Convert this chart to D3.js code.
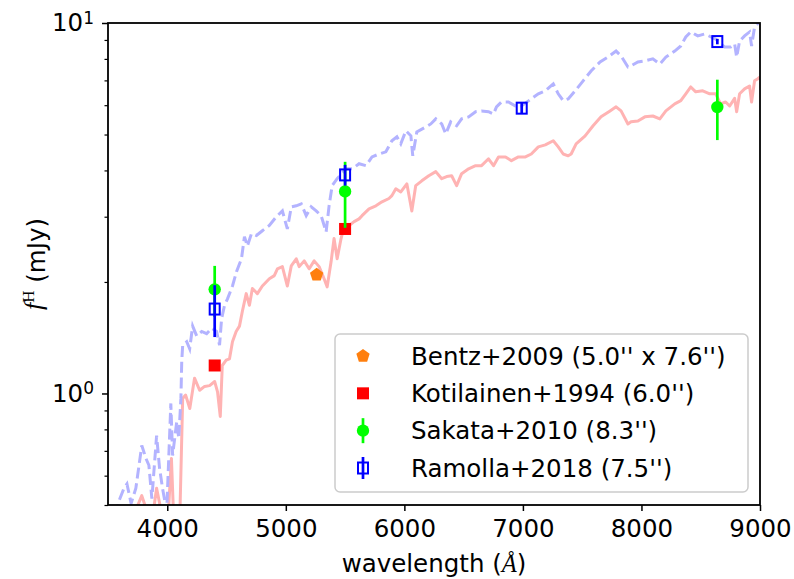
<!DOCTYPE html>
<html>
<head>
<meta charset="utf-8">
<script src="https://cdn.jsdelivr.net/npm/d3@7"></script>
<style>
  body { margin: 0; background: #fff; }
  svg { display: block; font-family: "DejaVu Sans", sans-serif; }
</style>
</head>
<body>
<script>
//panel size
var w = 794, h = 579;

//galaxy spectrum (solid, light red)
var redSpecWave = [3685, 3752, 3785, 3820, 3870, 3910, 3955, 4005, 4035, 4055, 4090, 4105, 4130, 4155, 4190, 4230,
    4273, 4315, 4357, 4400, 4424, 4447, 4464, 4497, 4525, 4550, 4581, 4609, 4634, 4666, 4693, 4718, 4760, 4802,
    4861, 4903, 4929, 4971, 5013, 5046, 5088, 5113, 5155, 5197, 5239, 5281, 5323, 5349, 5382, 5407, 5433, 5466,
    5492, 5534, 5576, 5618, 5643, 5702, 5760, 5811, 5870, 5895, 5928, 5970, 6021, 6063, 6096, 6147, 6206, 6265,
    6315, 6357, 6399, 6441, 6483, 6542, 6601, 6651, 6710, 6752, 6794, 6853, 6903, 6962, 7021, 7071, 7130, 7189,
    7256, 7298, 7340, 7382, 7407, 7449, 7525, 7592, 7659, 7735, 7786, 7828, 7886, 7912, 7970, 8029, 8096, 8155,
    8206, 8281, 8332, 8374, 8416, 8458, 8517, 8576, 8626, 8668, 8710, 8744, 8786, 8803, 8828, 8870, 8912, 8929,
    8954, 8979, 9000];
var redSpecFlux = [0.45, 0.50, 0.53, 0.49, 0.45, 0.555, 0.47, 0.45, 0.668, 0.45, 0.45, 0.45, 0.97, 0.99, 0.911, 1.10,
    1.02, 1.045, 1.05, 1.077, 1.01, 0.867, 1.19, 1.23, 1.24, 1.38, 1.47, 1.52, 1.67, 1.86, 1.73, 1.92, 1.86, 1.95,
    2.04, 2.08, 2.17, 2.20, 1.95, 2.21, 2.31, 2.20, 2.28, 2.17, 2.28, 2.20, 2.04, 1.94, 2.27, 2.62, 2.31, 2.62,
    2.82, 2.84, 2.91, 2.96, 3.02, 3.15, 3.21, 3.29, 3.36, 3.42, 3.57, 3.50, 3.68, 3.11, 3.64, 3.75, 3.87, 3.97,
    3.80, 3.85, 3.87, 3.64, 3.92, 4.04, 4.12, 4.12, 4.30, 4.12, 4.35, 4.35, 4.25, 4.35, 4.35, 4.43, 4.63, 4.69,
    4.81, 4.63, 4.43, 4.38, 4.43, 4.72, 4.96, 5.28, 5.58, 5.79, 5.94, 5.79, 5.34, 5.41, 5.44, 5.58, 5.61, 5.51,
    5.79, 6.05, 6.17, 6.44, 6.72, 6.52, 6.56, 6.44, 6.44, 6.05, 6.12, 5.97, 6.26, 5.76, 6.44, 6.64, 6.76, 6.12,
    6.98, 7.06, 7.15];

//second spectrum (dashed, light blue)
var blueSpecWave = [3560, 3600, 3635, 3660, 3695, 3735, 3785, 3820, 3845, 3870, 3910, 3935, 3960, 3995, 4030, 4045,
    4080, 4097, 4115, 4122, 4130, 4164, 4189, 4214, 4248, 4290, 4332, 4374, 4416, 4441, 4458, 4483, 4508, 4550,
    4584, 4626, 4651, 4676, 4710, 4752, 4802, 4861, 4920, 4971, 5013, 5046, 5088, 5130, 5172, 5214, 5256, 5298,
    5340, 5365, 5391, 5433, 5508, 5559, 5618, 5676, 5727, 5786, 5844, 5895, 5937, 5970, 6013, 6055, 6071, 6105,
    6181, 6223, 6265, 6315, 6349, 6391, 6441, 6483, 6542, 6601, 6651, 6710, 6752, 6777, 6819, 6878, 6937, 6987,
    7071, 7130, 7189, 7256, 7298, 7340, 7382, 7441, 7508, 7575, 7651, 7718, 7786, 7828, 7886, 7912, 7970, 8029,
    8096, 8155, 8206, 8281, 8332, 8374, 8416, 8475, 8534, 8626, 8702, 8752, 8786, 8803, 8828, 8870, 8912, 8929,
    8954, 8979, 9000];
var blueSpecFlux = [0.47, 0.52, 0.555, 0.57, 0.505, 0.555, 0.724, 0.668, 0.64, 0.52, 0.77, 0.628, 0.555, 0.48, 0.94, 0.68,
    0.84, 0.756, 0.97, 1.22, 1.35, 1.38, 1.32, 1.52, 1.43, 1.47, 1.45, 1.50, 1.47, 1.35, 1.59, 1.73, 1.80, 1.95,
    2.13, 2.31, 2.65, 2.50, 2.70, 2.67, 2.75, 2.84, 3.00, 3.11, 2.78, 3.19, 3.21, 3.25, 3.02, 3.19, 3.11, 3.02,
    2.73, 3.21, 3.64, 3.80, 4.04, 4.04, 4.17, 4.12, 4.35, 4.43, 4.49, 4.81, 4.93, 4.72, 5.12, 4.96, 4.38, 5.08,
    5.24, 5.34, 5.51, 5.34, 5.02, 5.41, 5.28, 5.51, 5.58, 5.76, 5.79, 5.76, 5.68, 5.94, 6.12, 6.12, 5.97, 5.97,
    6.24, 6.44, 6.56, 6.85, 6.44, 6.17, 6.24, 6.56, 6.98, 7.42, 7.85, 8.09, 8.40, 8.15, 7.61, 7.66, 7.85, 7.90,
    8.00, 7.75, 8.09, 8.40, 8.67, 9.17, 9.46, 9.23, 9.34, 9.05, 8.61, 8.61, 8.78, 8.09, 8.94, 9.23, 9.46, 8.67,
    9.75, 9.94, 10.1];

//photometry
var bentzWave = [5260], bentzFlux = [2.09];
var kotiWave = [4400, 5500], kotiFlux = [1.19, 2.78];
var sakataWave = [4400, 5500, 8640], sakataFlux = [1.91, 3.51, 5.93], sakataErr = [0.30, 0.71, 1.10];
var ramollaWave = [4400, 5500, 6990, 8640], ramollaFlux = [1.69, 3.89, 5.89, 8.91], ramollaErr = [0.27, 0.25, 0.20, 0.15];

//legend labels
var legendLabels = ["Bentz+2009 (5.0'' x 7.6'')", "Kotilainen+1994 (6.0'')", "Sakata+2010 (8.3'')", "Ramolla+2018 (7.5'')"];

//axis ticks
var xTicks = [4000, 5000, 6000, 7000, 8000, 9000];
var yMajor = [1, 10], yMajorExp = ["0", "1"];
var yMinor = [0.5, 0.6, 0.7, 0.8, 0.9, 2, 3, 4, 5, 6, 7, 8, 9];

window.onload = function(){

    var left = 108, right = 760, top = 23, bottom = 505;
    var fs = "24.5px";

    var svg = d3.select("body")
        .append("svg")
        .attr("width", w)
        .attr("height", h);

    var x = d3.scaleLinear()
        .domain([3500, 9000])
        .range([left, right]);

    var y = d3.scaleLog()
        .domain([0.5, 10])
        .range([bottom, top]);

    svg.append("clipPath")
        .attr("id", "plotclip")
        .append("rect")
        .attr("x", left)
        .attr("y", top)
        .attr("width", right - left)
        .attr("height", bottom - top);

    var plot = svg.append("g")
        .attr("clip-path", "url(#plotclip)");

    //spectra
    var line = d3.line()
        .x(function(d){ return x(d[0]); })
        .y(function(d){ return y(d[1]); });

    plot.append("path")
        .datum(d3.zip(redSpecWave, redSpecFlux))
        .attr("d", line)
        .style("fill", "none")
        .style("stroke", "#ffb3b3")
        .style("stroke-width", 3)
        .style("stroke-linejoin", "round");

    plot.append("path")
        .datum(d3.zip(blueSpecWave, blueSpecFlux))
        .attr("d", line)
        .style("fill", "none")
        .style("stroke", "#b3b3ff")
        .style("stroke-width", 3)
        .style("stroke-dasharray", "11,4.8");

    //pentagon path centred on 0,0
    function pentagon(r){
        var pts = d3.range(5).map(function(k){
            var a = -Math.PI / 2 + k * 2 * Math.PI / 5;
            return [r * Math.cos(a), r * Math.sin(a)];
        });
        return "M" + pts.join("L") + "Z";
    }

    //Bentz
    plot.selectAll(".bentz")
        .data(d3.zip(bentzWave, bentzFlux))
        .enter()
        .append("path")
        .attr("class", "bentz")
        .attr("d", pentagon(7))
        .attr("transform", function(d){ return "translate(" + x(d[0]) + "," + y(d[1]) + ")"; })
        .style("fill", "#ff7f0e");

    //Kotilainen
    plot.selectAll(".koti")
        .data(d3.zip(kotiWave, kotiFlux))
        .enter()
        .append("rect")
        .attr("class", "koti")
        .attr("x", function(d){ return x(d[0]) - 6; })
        .attr("y", function(d){ return y(d[1]) - 6; })
        .attr("width", 12)
        .attr("height", 12)
        .style("fill", "#ff0000");

    //Sakata with error bars
    var sakata = d3.zip(sakataWave, sakataFlux, sakataErr);
    plot.selectAll(".sakataErr")
        .data(sakata)
        .enter()
        .append("line")
        .attr("class", "sakataErr")
        .attr("x1", function(d){ return x(d[0]); })
        .attr("x2", function(d){ return x(d[0]); })
        .attr("y1", function(d){ return y(d[1] - d[2]); })
        .attr("y2", function(d){ return y(d[1] + d[2]); })
        .style("stroke", "#00ff00")
        .style("stroke-width", 2.7);
    plot.selectAll(".sakata")
        .data(sakata)
        .enter()
        .append("circle")
        .attr("class", "sakata")
        .attr("cx", function(d){ return x(d[0]); })
        .attr("cy", function(d){ return y(d[1]); })
        .attr("r", 6.2)
        .style("fill", "#00ff00");

    //Ramolla with error bars, open squares
    var ramolla = d3.zip(ramollaWave, ramollaFlux, ramollaErr);
    plot.selectAll(".ramollaErr")
        .data(ramolla)
        .enter()
        .append("line")
        .attr("class", "ramollaErr")
        .attr("x1", function(d){ return x(d[0]); })
        .attr("x2", function(d){ return x(d[0]); })
        .attr("y1", function(d){ return y(d[1] - d[2]); })
        .attr("y2", function(d){ return y(d[1] + d[2]); })
        .style("stroke", "#0000ff")
        .style("stroke-width", 2.7);
    plot.selectAll(".ramolla")
        .data(ramolla)
        .enter()
        .append("rect")
        .attr("class", "ramolla")
        .attr("x", function(d){ return x(d[0]) - 5; })
        .attr("y", function(d){ return y(d[1]) - 5.5; })
        .attr("width", 10)
        .attr("height", 11)
        .style("fill", "none")
        .style("stroke", "#0000ff")
        .style("stroke-width", 2);

    //x axis
    var xAxis = svg.append("g")
        .attr("class", "xaxis")
        .attr("transform", "translate(0," + bottom + ")")
        .call(d3.axisBottom(x).tickValues(xTicks).tickSize(6).tickPadding(9).tickSizeOuter(0).tickFormat(d3.format("d")));
    xAxis.select(".domain").remove();
    xAxis.selectAll("line").style("stroke", "#000").style("stroke-width", 1.5);
    xAxis.selectAll("text")
        .style("font-family", "DejaVu Sans")
        .style("font-size", fs)
        .style("fill", "#000");

    //y axis minor ticks
    var yMinorAxis = svg.append("g")
        .attr("transform", "translate(" + left + ",0)")
        .call(d3.axisLeft(y).tickValues(yMinor).tickSize(3.5).tickFormat(""));
    yMinorAxis.select(".domain").remove();
    yMinorAxis.selectAll("line").style("stroke", "#000").style("stroke-width", 1.2);

    //y axis major ticks with power labels
    var yAxis = svg.append("g")
        .attr("class", "yaxis")
        .attr("transform", "translate(" + left + ",0)")
        .call(d3.axisLeft(y).tickValues(yMajor).tickSize(6).tickPadding(8).tickFormat(""));
    yAxis.select(".domain").remove();
    yAxis.selectAll("line").style("stroke", "#000").style("stroke-width", 1.5);
    yAxis.selectAll("text")
        .style("font-family", "DejaVu Sans")
        .style("font-size", fs)
        .style("fill", "#000")
        .each(function(d, i){
            var t = d3.select(this);
            t.append("tspan").text("10");
            t.append("tspan")
                .attr("dy", "-0.45em")
                .style("font-size", "17px")
                .text(yMajorExp[i]);
        });

    //frame
    svg.append("rect")
        .attr("x", left)
        .attr("y", top)
        .attr("width", right - left)
        .attr("height", bottom - top)
        .style("fill", "none")
        .style("stroke", "#000")
        .style("stroke-width", 1.8);

    //axis titles
    var xTitle = svg.append("text")
        .attr("x", (left + right) / 2)
        .attr("y", 572)
        .attr("text-anchor", "middle")
        .style("font-size", fs);
    xTitle.append("tspan").text("wavelength (");
    xTitle.append("tspan")
        .style("font-family", "Liberation Serif")
        .style("font-style", "italic")
        .text("\u00C5");
    xTitle.append("tspan").text(")");

    var yTitle = svg.append("text")
        .attr("transform", "translate(42," + ((top + bottom) / 2) + ") rotate(-90)")
        .attr("text-anchor", "middle")
        .style("font-size", fs);
    yTitle.append("tspan")
        .style("font-family", "Liberation Serif")
        .style("font-style", "italic")
        .style("font-size", "26px")
        .text("f");
    yTitle.append("tspan")
        .attr("dy", "-0.45em")
        .style("font-family", "Liberation Serif")
        .style("font-size", "17px")
        .text("H");
    yTitle.append("tspan")
        .attr("dy", "0.45em")
        .text(" (mJy)");

    //legend
    var legend = svg.append("g").attr("class", "legend");
    legend.append("rect")
        .attr("x", 335)
        .attr("y", 334)
        .attr("width", 413)
        .attr("height", 158)
        .attr("rx", 5)
        .style("fill", "#fff")
        .style("fill-opacity", 0.8)
        .style("stroke", "#cccccc")
        .style("stroke-width", 1.5);

    var rowY = d3.scaleLinear().domain([0, 3]).range([356, 468]);
    var mx = 363;

    legend.append("path")
        .attr("d", pentagon(7))
        .attr("transform", "translate(" + mx + "," + rowY(0) + ")")
        .style("fill", "#ff7f0e");
    legend.append("rect")
        .attr("x", mx - 6).attr("y", rowY(1) - 6)
        .attr("width", 12).attr("height", 12)
        .style("fill", "#ff0000");
    legend.append("line")
        .attr("x1", mx).attr("x2", mx)
        .attr("y1", rowY(2) - 12.5).attr("y2", rowY(2) + 12.5)
        .style("stroke", "#00ff00").style("stroke-width", 2.7);
    legend.append("circle")
        .attr("cx", mx).attr("cy", rowY(2)).attr("r", 6.2)
        .style("fill", "#00ff00");
    legend.append("line")
        .attr("x1", mx).attr("x2", mx)
        .attr("y1", rowY(3) - 11).attr("y2", rowY(3) + 11)
        .style("stroke", "#0000ff").style("stroke-width", 2.7);
    legend.append("rect")
        .attr("x", mx - 5).attr("y", rowY(3) - 5.5)
        .attr("width", 10).attr("height", 11)
        .style("fill", "none")
        .style("stroke", "#0000ff").style("stroke-width", 2);

    legend.selectAll(".labels")
        .data(legendLabels)
        .enter()
        .append("text")
        .attr("class", "labels")
        .attr("x", 411)
        .attr("y", function(d, i){ return rowY(i); })
        .attr("dy", "0.35em")
        .style("font-size", fs)
        .text(function(d){ return d; });
};
</script>
</body>
</html>
